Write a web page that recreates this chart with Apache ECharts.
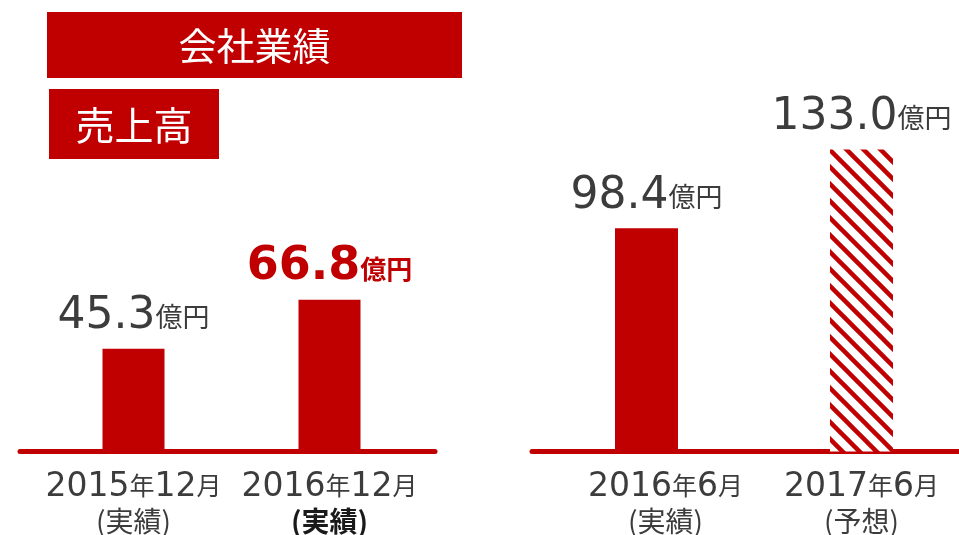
<!DOCTYPE html>
<html>
<head>
<meta charset="utf-8">
<script src="https://cdn.jsdelivr.net/npm/echarts@6/dist/echarts.min.js"></script>
<style>
  html, body { margin: 0; padding: 0; background: #fff; }
  #chart { width: 959px; height: 535px; }
</style>
</head>
<body>
<div id="chart"></div>
<script>
// data
const title = '会社業績';
const subTitle = '売上高';
const unit = '億円';
const leftCats = ['2015年12月', '2016年12月'];
const leftNotes = ['実績', '実績'];
const leftValues = [45.3, 66.8];
const rightCats = ['2016年6月', '2017年6月'];
const rightNotes = ['実績', '予想'];
const rightValues = [98.4, 133.0];

const RED = '#c00000';
const GRAY = '#3c3c3c';
const NUM_FONT = 'DejaVu Sans';
const JP_FONT = '"Noto Sans CJK JP"';

const chart = echarts.init(document.getElementById('chart'));

// diagonal stripes for the forecast bar
function stripes() {
  const s = 17;
  const c = document.createElement('canvas');
  c.width = s; c.height = s;
  const g = c.getContext('2d');
  g.fillStyle = '#fff';
  g.fillRect(0, 0, s, s);
  g.strokeStyle = RED;
  g.lineWidth = 4.5;
  for (const o of [-s, 0, s]) {
    g.beginPath();
    g.moveTo(o - 3, -3);
    g.lineTo(o + s + 3, s + 3);
    g.stroke();
  }
  return c;
}

function catLabel(cat, note, bold) {
  const top = cat.replace(/(\d+)/g, '{n|$1}').replace(/([年月])/g, '{k|$1}');
  return top + '\n{' + (bold ? 'pb' : 'p') + '|(' + note + ')}';
}

const catRich = {
  n: { fontFamily: NUM_FONT, fontSize: 33, color: GRAY, lineHeight: 38, verticalAlign: 'bottom' },
  k: { fontFamily: JP_FONT, fontSize: 25, color: GRAY, lineHeight: 38, verticalAlign: 'bottom', padding: [0, 0, 5, 0] },
  p: { fontFamily: JP_FONT, fontSize: 28, color: GRAY, lineHeight: 36 },
  pb: { fontFamily: JP_FONT, fontSize: 28, color: '#1a1a1a', fontWeight: 'bold', lineHeight: 36 }
};

const valRich = {
  v: { fontFamily: NUM_FONT, fontSize: 44, color: GRAY, verticalAlign: 'bottom', lineHeight: 48 },
  u: { fontFamily: JP_FONT, fontSize: 27, color: GRAY, verticalAlign: 'bottom', lineHeight: 34, padding: [0, 0, 8, 0] },
  vb: { fontFamily: NUM_FONT, fontSize: 46, color: RED, fontWeight: 'bold', verticalAlign: 'bottom', lineHeight: 48 },
  ub: { fontFamily: JP_FONT, fontSize: 26, color: RED, fontWeight: 'bold', verticalAlign: 'bottom', lineHeight: 34, padding: [0, 0, 8, 0] }
};

function valLabel(highlight) {
  return {
    show: true,
    position: 'top',
    distance: 10,
    formatter: p => p.dataIndex === highlight
      ? `{vb|${p.value.toFixed(1)}}{ub|${unit}}`
      : `{v|${p.value.toFixed(1)}}{u|${unit}}`,
    rich: valRich
  };
}

const gridTop = 111;
const gridBottom = 83.5;

const baseAxis = {
  type: 'category',
  data: [''],
  axisLine: { show: true, lineStyle: { color: RED, width: 5 } },
  axisTick: { show: false },
  axisLabel: { show: false }
};

const hiddenY = { type: 'value', min: 0, max: 150, show: false, splitLine: { show: false } };

const option = {
  animation: false,
  backgroundColor: '#fff',
  grid: [
    { left: 35.5, width: 392, top: gridTop, bottom: gridBottom, outerBoundsMode: 'none' },
    { left: 539, width: 430, top: gridTop, bottom: gridBottom, outerBoundsMode: 'none' },
    { left: 20, width: 415, top: gridTop, bottom: gridBottom, outerBoundsMode: 'none' },
    { left: 532, width: 427, top: gridTop, bottom: gridBottom, outerBoundsMode: 'none' }
  ],
  xAxis: [
    {
      type: 'category', gridIndex: 0,
      data: leftCats,
      axisLine: { show: false }, axisTick: { show: false },
      axisLabel: {
        margin: 14,
        formatter: (v, i) => catLabel(v, leftNotes[i], i === 1),
        rich: catRich
      }
    },
    {
      type: 'category', gridIndex: 1,
      data: rightCats.map((c, i) => i === 0 ? { value: c, textStyle: { padding: [0, 0, 0, 38] } } : c),
      axisLine: { show: false }, axisTick: { show: false },
      axisLabel: {
        margin: 14,
        formatter: (v, i) => catLabel(v, rightNotes[i], false),
        rich: catRich
      }
    },
    Object.assign({ gridIndex: 2 }, baseAxis),
    Object.assign({ gridIndex: 3 }, baseAxis)
  ],
  yAxis: [0, 1, 2, 3].map(i => Object.assign({ gridIndex: i }, hiddenY)),
  series: [
    {
      type: 'bar',
      xAxisIndex: 0, yAxisIndex: 0,
      barWidth: 62,
      itemStyle: { color: RED },
      label: valLabel(1),
      data: leftValues
    },
    {
      type: 'bar',
      xAxisIndex: 1, yAxisIndex: 1,
      barWidth: 63,
      itemStyle: { color: RED },
      label: valLabel(-1),
      data: rightValues.map((v, i) => i === 1
        ? { value: v, itemStyle: { color: { image: stripes(), repeat: 'repeat' } } }
        : v)
    }
  ],
  graphic: [
    {
      type: 'rect', x: 47, y: 12,
      shape: { width: 415, height: 66 },
      style: { fill: RED }
    },
    {
      type: 'text', x: 254.5, y: 46,
      style: {
        text: title, fill: '#fff', font: '38px "Noto Sans CJK JP"',
        align: 'center', verticalAlign: 'middle'
      }
    },
    {
      type: 'rect', x: 49, y: 89,
      shape: { width: 170, height: 70 },
      style: { fill: RED }
    },
    {
      type: 'text', x: 134, y: 125,
      style: {
        text: subTitle, fill: '#fff', font: '39px "Noto Sans CJK JP"',
        align: 'center', verticalAlign: 'middle'
      }
    }
  ]
};

chart.setOption(option);
</script>
</body>
</html>
